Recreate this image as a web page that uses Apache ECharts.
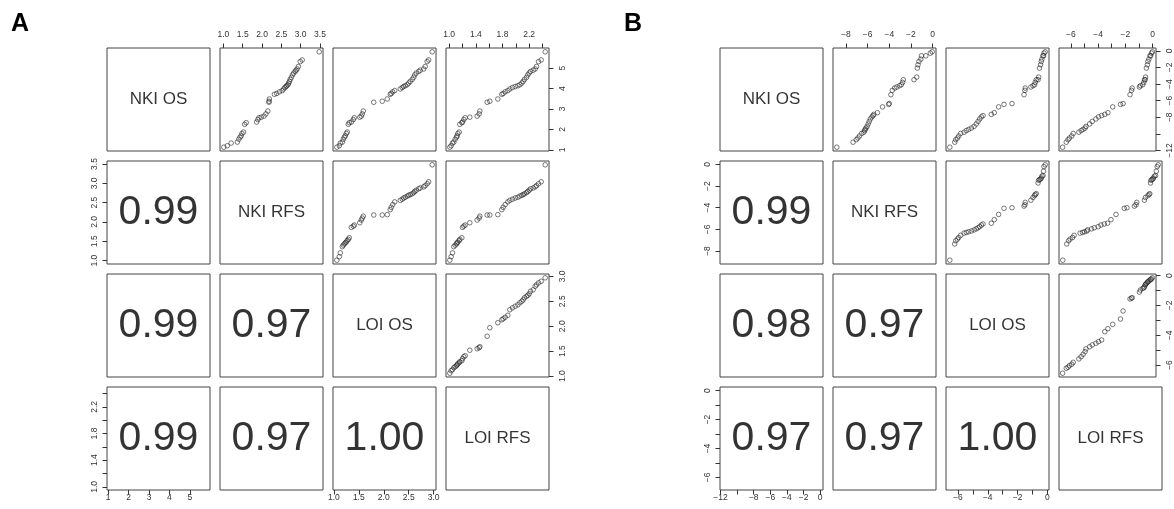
<!DOCTYPE html>
<html><head><meta charset="utf-8">
<script src="https://cdn.jsdelivr.net/npm/echarts@6/dist/echarts.min.js"></script>
<style>html,body{margin:0;padding:0;background:#fff}#c{width:1174px;height:509px}</style>
</head><body><div id="c"></div>
<script>
// ---------- Panel A ----------
const namesA = ['NKI OS', 'NKI RFS', 'LOI OS', 'LOI RFS'];
const nkiOsA = [1.13,1.20,1.33,1.38,1.52,1.62,1.68,1.80,1.87,2.25,2.33,2.36,2.48,2.57,2.60,2.65,2.76,2.90,3.33,3.38,3.49,3.72,3.76,3.84,3.90,3.98,4.05,4.10,4.14,4.19,4.27,4.35,4.45,4.55,4.67,4.76,4.84,4.90,4.96,5.08,5.32,5.40,5.80];
const nkiRfsA = [1.01,1.10,1.20,1.36,1.40,1.43,1.46,1.48,1.52,1.55,1.59,1.86,1.89,1.92,1.98,2.05,2.10,2.15,2.18,2.18,2.19,2.32,2.38,2.45,2.52,2.56,2.59,2.62,2.64,2.67,2.69,2.71,2.73,2.76,2.79,2.82,2.86,2.88,2.91,2.94,2.99,3.04,3.48];
const loiOsA = [1.06,1.11,1.13,1.17,1.19,1.21,1.23,1.25,1.27,1.29,1.31,1.35,1.39,1.41,1.52,1.55,1.57,1.59,1.80,1.97,2.07,2.13,2.15,2.18,2.22,2.33,2.37,2.40,2.43,2.47,2.50,2.53,2.57,2.60,2.62,2.65,2.70,2.73,2.80,2.83,2.87,2.90,2.97];
const loiRfsA = [1.01,1.03,1.05,1.07,1.09,1.11,1.12,1.13,1.15,1.16,1.19,1.20,1.22,1.24,1.31,1.42,1.45,1.46,1.57,1.61,1.73,1.79,1.81,1.84,1.88,1.91,1.95,1.99,2.03,2.06,2.09,2.11,2.13,2.16,2.18,2.20,2.22,2.26,2.29,2.31,2.34,2.38,2.44];
// lower-triangle cells in order (2,1),(3,1),(3,2),(4,1),(4,2),(4,3)
const corrA = ['0.99', '0.99', '0.97', '0.99', '0.97', '1.00'];
const tickValsA = [[1,2,3,4,5], [1,1.5,2,2.5,3,3.5], [1,1.5,2,2.5,3], [1,1.2,1.4,1.6,1.8,2,2.2,2.4]];
const labelValsA = [[1,2,3,4,5], [1,1.5,2,2.5,3,3.5], [1,1.5,2,2.5,3], [1,1.4,1.8,2.2]];
const decimalsA = [0, 1, 1, 1];

// ---------- Panel B ----------
const namesB = ['NKI OS', 'NKI RFS', 'LOI OS', 'LOI RFS'];
const nkiOsB = [-11.60,-11.00,-10.70,-10.50,-10.25,-9.95,-9.80,-9.60,-9.45,-9.30,-9.10,-8.80,-8.50,-8.20,-7.95,-7.80,-7.65,-7.45,-6.75,-6.45,-6.35,-5.28,-4.76,-4.48,-4.36,-4.20,-4.08,-3.80,-3.48,-3.48,-3.16,-2.08,-1.68,-1.28,-1.00,-0.60,-0.60,-0.28,-0.12];
const nkiRfsB = [-8.85,-7.35,-7.05,-6.90,-6.75,-6.55,-6.35,-6.28,-6.22,-6.15,-6.05,-5.95,-5.85,-5.75,-5.60,-5.50,-5.43,-5.10,-4.62,-4.05,-4.00,-3.85,-3.72,-3.50,-3.30,-3.05,-2.88,-2.77,-2.70,-1.71,-1.46,-1.40,-1.34,-1.25,-1.08,-1.02,-0.62,-0.20,-0.03];
const loiOsB = [-6.55,-6.22,-6.15,-6.04,-5.95,-5.82,-5.59,-5.44,-5.28,-5.10,-4.92,-4.77,-4.65,-4.54,-4.43,-4.32,-3.76,-3.56,-3.27,-2.91,-2.37,-1.56,-1.50,-1.48,-1.10,-0.96,-0.85,-0.81,-0.74,-0.62,-0.58,-0.52,-0.45,-0.40,-0.36,-0.29,-0.25,-0.22,-0.14];
const loiRfsB = [-6.60,-6.33,-6.20,-6.10,-5.93,-5.82,-5.41,-5.24,-5.10,-4.95,-4.89,-4.62,-4.43,-4.16,-3.97,-3.74,-3.51,-3.28,-2.93,-2.36,-2.17,-1.66,-1.55,-1.50,-0.97,-0.90,-0.73,-0.65,-0.60,-0.55,-0.52,-0.46,-0.39,-0.35,-0.28,-0.20,-0.15,-0.09,-0.02];
const corrB = ['0.99', '0.98', '0.97', '0.97', '0.97', '1.00'];
const tickValsB = [[-12,-10,-8,-6,-4,-2,0], [-8,-6,-4,-2,0], [-6,-5,-4,-3,-2,-1,0], [-6,-5,-4,-3,-2,-1,0]];
const labelValsB = [[-12,-8,-6,-4,-2,0], [-8,-6,-4,-2,0], [-6,-4,-2,0], [-6,-4,-2,0]];
const decimalsB = [0, 0, 0, 0];

// ---------- layout / style ----------
const FONT = '"Liberation Sans", Arial, Helvetica, sans-serif';
const CELL = 103, STEP = 113, TOP0 = 48;
const panels = [
  { letter: 'A', left0: 107, letterX: 11, names: namesA, vars: [nkiOsA, nkiRfsA, loiOsA, loiRfsA], corr: corrA, ticks: tickValsA, labels: labelValsA, dec: decimalsA },
  { letter: 'B', left0: 720, letterX: 624, names: namesB, vars: [nkiOsB, nkiRfsB, loiOsB, loiRfsB], corr: corrB, ticks: tickValsB, labels: labelValsB, dec: decimalsB }
];

function padRange(arr) {
  const mn = Math.min(...arr), mx = Math.max(...arr), d = (mx - mn) * 0.04;
  return [mn - d, mx + d];
}
function fmt(v, dec) {
  return (dec > 0 ? v.toFixed(dec) : String(Math.round(v))).replace('-', '\u2212');
}

const grids = [], xAxes = [], yAxes = [], series = [], graphics = [];
panels.forEach(p => {
  const ranges = p.vars.map(padRange);
  let corrIdx = 0;
  graphics.push({ type: 'text', left: p.letterX, top: 12, style: { text: p.letter, font: 'bold 25px ' + FONT, fill: '#000' } });
  for (let i = 0; i < 4; i++) {
    for (let j = 0; j < 4; j++) {
      const g = grids.length;
      grids.push({ left: p.left0 + j * STEP, top: TOP0 + i * STEP, width: CELL, height: CELL, show: true, borderColor: '#444', borderWidth: 1, backgroundColor: 'transparent' });
      const showTop = i === 0 && j % 2 === 1;
      const showBottom = i === 3 && j % 2 === 0;
      const showX = showTop || showBottom;
      const showLeft = j === 0 && i % 2 === 1;
      const showRight = j === 3 && i % 2 === 0;
      const showY = showLeft || showRight;
      const dj = p.dec[j], di = p.dec[i];
      xAxes.push({
        gridIndex: g, type: 'value', min: ranges[j][0], max: ranges[j][1],
        position: showTop ? 'top' : 'bottom', show: showX,
        axisLine: { show: false, onZero: false }, splitLine: { show: false },
        axisTick: { show: showX, inside: false, length: 4.5, customValues: p.ticks[j], lineStyle: { color: '#333', width: 1 } },
        axisLabel: { show: showX, customValues: p.labels[j], margin: showTop ? 9 : 3, fontSize: 8.5, fontFamily: FONT, color: '#333', formatter: v => fmt(v, dj), hideOverlap: false }
      });
      yAxes.push({
        gridIndex: g, type: 'value', min: ranges[i][0], max: ranges[i][1],
        position: showRight ? 'right' : 'left', show: showY,
        axisLine: { show: false, onZero: false }, splitLine: { show: false },
        axisTick: { show: showY, inside: false, length: 4.5, customValues: p.ticks[i], lineStyle: { color: '#333', width: 1 } },
        axisLabel: { show: showY, customValues: p.labels[i], rotate: 90, margin: showRight ? 9 : 8, fontSize: 8.5, fontFamily: FONT, color: '#333', formatter: v => fmt(v, di), hideOverlap: false }
      });
      const cx = (ranges[j][0] + ranges[j][1]) / 2, cy = (ranges[i][0] + ranges[i][1]) / 2;
      if (i < j) {
        series.push({
          type: 'scatter', xAxisIndex: g, yAxisIndex: g, symbol: 'circle', symbolSize: 4.6,
          itemStyle: { color: 'rgba(0,0,0,0)', borderColor: '#222', borderWidth: 0.75 },
          data: p.vars[j].map((x, k) => [x, p.vars[i][k]]), silent: true
        });
      } else {
        const text = i === j ? p.names[i] : p.corr[corrIdx++];
        series.push({
          type: 'scatter', xAxisIndex: g, yAxisIndex: g, symbolSize: 1, silent: true,
          itemStyle: { color: 'rgba(0,0,0,0)' },
          label: { show: true, position: 'inside', formatter: '{b}', fontFamily: FONT, color: '#000', fontSize: i === j ? 17 : 41 },
          data: [{ name: text, value: [cx, cy] }]
        });
      }
    }
  }
});

const chart = echarts.init(document.getElementById('c'), null, { renderer: 'canvas' });
chart.setOption({
  animation: false, backgroundColor: '#fff',
  grid: grids, xAxis: xAxes, yAxis: yAxes, series: series, graphic: graphics
});
</script></body></html>
